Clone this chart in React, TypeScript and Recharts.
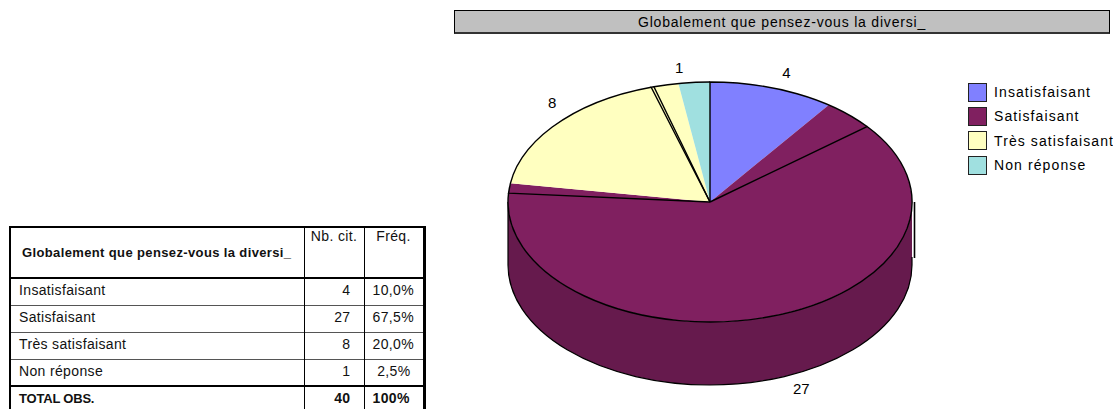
import { PieChart, Pie, Cell, Legend } from "recharts";

const TITLE = "Globalement que pensez-vous la diversi_";
const TABLE_TITLE = "Globalement que pensez-vous la diversi_";
const categories = ["Insatisfaisant", "Satisfaisant", "Très satisfaisant", "Non réponse"];
const counts = [4, 27, 8, 1];
const freqLabels = ["10,0%", "67,5%", "20,0%", "2,5%"];
const totalRow = ["TOTAL OBS.", "40", "100%"];
const colors = ["#8080FF", "#802060", "#FFFFC0", "#A0E0E0"];
// the black outlines of the source do not line up with the fills
const outlineCounts = [5.67, 24.8, 7.65, 0.09, 1.79];

const pieData = categories.map((name, i) => ({ name, count: counts[i] }));
const outlineData = outlineCounts.map((count, i) => ({ name: `o${i}`, count }));

const FONT = '"Liberation Sans", Arial, sans-serif';
const SQUASH = 0.594;
const DEPTH = 63;

const pt = (cx: number, cy: number, r: number, deg: number) => {
  const a = (deg * Math.PI) / 180;
  return [cx + r * Math.cos(a), cy - r * SQUASH * Math.sin(a)];
};

function arc(cx: number, cy: number, r: number, from: number, to: number) {
  const [x, y] = pt(cx, cy, r, to);
  const large = Math.abs(from - to) > 180 ? 1 : 0;
  return `A${r} ${r * SQUASH} 0 ${large} ${to < from ? 1 : 0} ${x} ${y}`;
}

function TopSector(props: any) {
  const { cx, cy, outerRadius: r, startAngle, endAngle, fill } = props;
  const [sx, sy] = pt(cx, cy, r, startAngle);
  const hi = Math.min(startAngle, 0);
  const lo = Math.max(endAngle, -180);
  let wall = null;
  if (lo < hi) {
    const [ax, ay] = pt(cx, cy, r, lo);
    const [bx, by] = pt(cx, cy, r, hi);
    const top = arc(cx, cy, r, lo, hi);
    const bottom = arc(cx, cy + DEPTH, r, hi, lo);
    wall = (
      <g>
        <path d={`M${ax} ${ay}${top}L${bx} ${by + DEPTH}${bottom}Z`} fill="#661A4D" />
        <path d={`M${ax} ${ay}L${ax} ${ay + DEPTH}M${bx} ${by + DEPTH - 8}L${bx} ${by + DEPTH}${bottom}`} fill="none" stroke="#000" strokeWidth={1.2} />
        <path d={`M${bx + 2.5} ${by}L${bx + 2.5} ${by + DEPTH - 7}`} stroke="#000" strokeWidth={1.6} />
      </g>
    );
  }
  return (
    <g>
      {wall}
      <path d={`M${cx} ${cy}L${sx} ${sy}${arc(cx, cy, r, startAngle, endAngle)}Z`} fill={fill} />
    </g>
  );
}

function OutlineSector(props: any) {
  const { cx, cy, outerRadius: r, startAngle, endAngle } = props;
  const [sx, sy] = pt(cx, cy, r, startAngle);
  return <path d={`M${cx} ${cy}L${sx} ${sy}${arc(cx, cy, r, startAngle, endAngle)}`} fill="none" stroke="#000" strokeWidth={1.4} />;
}

function renderLabel(props: any) {
  const { cx, cy, outerRadius: r, midAngle, value } = props;
  const [x, y] = pt(cx, cy, r, midAngle);
  const a = (midAngle * Math.PI) / 180;
  const down = Math.sin(a) < 0;
  return (
    <text
      x={x + (Math.cos(a) > 0 ? 14 : -15)}
      y={y + (down ? DEPTH + 13 : -15)}
      textAnchor="middle"
      dominantBaseline="central"
      fontFamily={FONT}
      fontSize={15}
      fill="#000"
    >
      {value}
    </text>
  );
}

function LegendBox({ payload }: any) {
  const items = (payload || []).filter((p: any) => categories.includes(p.value));
  return (
    <div style={{ fontFamily: FONT, fontSize: 14, letterSpacing: 1.1, color: "#000" }}>
      {items.map((p: any, i: number) => (
        <div key={p.value} style={{ height: 24.3, display: "flex", alignItems: "center", whiteSpace: "nowrap" }}>
          <span style={{ width: 17, height: 17, background: colors[i], border: "1.3px solid #222", marginRight: 7, flex: "none" }} />
          {p.value}
        </div>
      ))}
    </div>
  );
}

const cell: React.CSSProperties = { padding: "0 8px", borderRight: "1.5px solid #000", whiteSpace: "nowrap", letterSpacing: 0.35 };

function FreqTable() {
  const rowLine = "1.5px solid #555";
  return (
    <table
      style={{
        position: "absolute", left: 9, top: 226, width: 414, height: 183, tableLayout: "fixed",
        borderCollapse: "collapse", fontFamily: FONT, fontSize: 14, color: "#111",
        borderTop: "2.5px solid #000", borderLeft: "2px solid #000", borderRight: "3px solid #000",
      }}
    >
      <colgroup>
        <col style={{ width: 294 }} />
        <col style={{ width: 60 }} />
        <col style={{ width: 60 }} />
      </colgroup>
      <tbody>
        <tr style={{ height: 51, borderBottom: "2.5px solid #000" }}>
          <td style={{ ...cell, fontWeight: 700, fontSize: 13, letterSpacing: 0.37, paddingLeft: 11 }}>{TABLE_TITLE}</td>
          <td style={{ ...cell, verticalAlign: "top", textAlign: "center", padding: "0" }}>Nb. cit.</td>
          <td style={{ ...cell, verticalAlign: "top", textAlign: "center", padding: "0", borderRight: "none" }}>Fréq.</td>
        </tr>
        {categories.map((c, i) => (
          <tr key={c} style={{ height: 27, borderBottom: i === categories.length - 1 ? "2.5px solid #000" : rowLine }}>
            <td style={{ ...cell, paddingLeft: 8, paddingBottom: 3 }}>{c}</td>
            <td style={{ ...cell, textAlign: "right", paddingRight: 13, paddingBottom: 3 }}>{counts[i]}</td>
            <td style={{ ...cell, textAlign: "right", paddingRight: 12, paddingBottom: 3, borderRight: "none" }}>{freqLabels[i]}</td>
          </tr>
        ))}
        <tr style={{ height: 23, fontWeight: 700 }}>
          <td style={{ ...cell, paddingLeft: 8, fontSize: 13, letterSpacing: -0.2 }}>{totalRow[0]}</td>
          <td style={{ ...cell, textAlign: "right", paddingRight: 13 }}>{totalRow[1]}</td>
          <td style={{ ...cell, textAlign: "right", paddingRight: 18, borderRight: "none" }}>{totalRow[2]}</td>
        </tr>
      </tbody>
    </table>
  );
}

export default function App() {
  return (
    <div style={{ position: "absolute", left: 0, top: 0, width: 1113, height: 409, overflow: "hidden", background: "#fff" }}>
      <PieChart width={1113} height={409} margin={{ top: 0, right: 0, bottom: 0, left: 0 }}>
        <Legend
          content={<LegendBox />}
          itemSorter={null}
          wrapperStyle={{ position: "absolute", left: 968, top: 80, width: 145 }}
        />
        <Pie
          data={pieData}
          dataKey="count"
          nameKey="name"
          cx={710}
          cy={202}
          outerRadius={202}
          startAngle={90}
          endAngle={-270}
          stroke="none"
          shape={TopSector}
          label={renderLabel}
          labelLine={false}
          isAnimationActive={false}
        >
          {pieData.map((d, i) => (
            <Cell key={d.name} fill={colors[i]} />
          ))}
        </Pie>
        <Pie
          data={outlineData}
          dataKey="count"
          cx={710}
          cy={202}
          outerRadius={202}
          startAngle={90}
          endAngle={-270}
          fill="none"
          stroke="none"
          legendType="none"
          shape={OutlineSector}
          isAnimationActive={false}
        />
      </PieChart>
      <div
        style={{
          position: "absolute", left: 454, top: 10, width: 654, height: 21, background: "#C0C0C0",
          border: "1px solid #000", borderBottom: "2px solid #333", textAlign: "center", fontFamily: FONT, fontSize: 14,
          lineHeight: "22px", letterSpacing: 0.8, color: "#000",
        }}
      >
        {TITLE}
      </div>
      <FreqTable />
    </div>
  );
}
